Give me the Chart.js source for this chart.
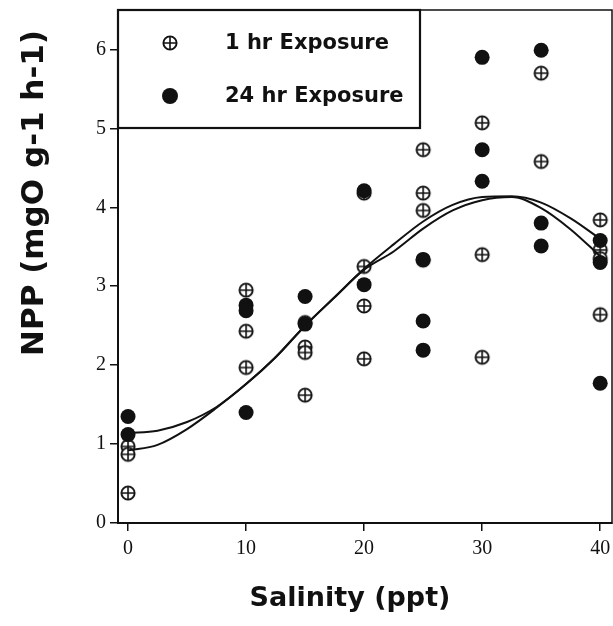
<!DOCTYPE html>
<html>
<head>
<meta charset="utf-8">
<script src="https://cdn.jsdelivr.net/npm/chart.js@4.4.1/dist/chart.umd.min.js"></script>
<style>
  html, body { margin: 0; padding: 0; background: #fff; }
  #wrap { width: 613px; height: 626px; position: relative; }
</style>
</head>
<body>
<div id="wrap"><canvas id="chartNpp" width="613" height="626"></canvas></div>
<script>
/***** DATA *****/
const xTicks = [0, 10, 20, 30, 40];
const yTicks = [0, 1, 2, 3, 4, 5, 6];
const xTitle = "Salinity (ppt)";
const yTitle = "NPP (mgO g-1 h-1)";

// 1 hr exposure (circle with cross)
const hr1Sal = [0, 0, 0, 10, 10, 10, 15, 15, 15, 15, 20, 20, 20, 20, 25, 25, 25, 25, 30, 30, 30, 35, 35, 40, 40, 40, 40];
const hr1Npp = [0.97, 0.87, 0.38, 2.95, 2.43, 1.97, 2.54, 2.23, 2.16, 1.62, 4.18, 3.25, 2.75, 2.08, 4.73, 4.18, 3.96, 3.33, 5.07, 3.40, 2.10, 5.70, 4.58, 3.84, 3.46, 3.35, 2.64];

// 24 hr exposure (filled circle)
const hr24Sal = [0, 0, 10, 10, 10, 15, 15, 20, 20, 25, 25, 25, 30, 30, 30, 35, 35, 35, 40, 40, 40];
const hr24Npp = [1.35, 1.12, 2.76, 2.69, 1.40, 2.87, 2.52, 4.21, 3.02, 3.34, 2.56, 2.19, 5.90, 4.73, 4.33, 5.99, 3.80, 3.51, 3.58, 3.30, 1.77];

// fitted curves
const fitSal = [0, 2.5, 5, 7.5, 10, 12.5, 15, 17.5, 20, 22.5, 25, 27.5, 30, 32.5, 35, 37.5, 40];
const fitA   = [1.14, 1.17, 1.28, 1.47, 1.76, 2.10, 2.50, 2.86, 3.22, 3.53, 3.82, 4.03, 4.13, 4.14, 4.06, 3.86, 3.60];
const fitB   = [0.92, 0.99, 1.19, 1.46, 1.76, 2.10, 2.50, 2.86, 3.21, 3.44, 3.73, 3.96, 4.09, 4.13, 3.99, 3.72, 3.38];

/***** HELPERS *****/
const toXY = (xs, ys) => xs.map((x, i) => ({ x: x, y: ys[i] }));

function crossCircle(r, lw){
  const s = Math.ceil(r*2 + lw + 2);
  const c = document.createElement("canvas");
  c.width = s; c.height = s;
  const g = c.getContext("2d");
  const m = s/2;
  g.fillStyle = "#fff";
  g.strokeStyle = "#111";
  g.lineWidth = lw;
  g.beginPath(); g.arc(m, m, r, 0, Math.PI*2); g.fill(); g.stroke();
  g.lineWidth = lw*0.85;
  g.beginPath();
  g.moveTo(m - r, m); g.lineTo(m + r, m);
  g.moveTo(m, m - r); g.lineTo(m, m + r);
  g.stroke();
  return c;
}
const crossImg = crossCircle(6.6, 1.9);

const titleFont = "'DejaVu Sans', sans-serif";
const tickFont  = "'Liberation Serif', serif";

/***** PLUGINS *****/
const frameAndLegend = {
  id: "frameAndLegend",
  afterDraw(chart){
    const { ctx, chartArea: a } = chart;
    ctx.save();
    ctx.strokeStyle = "#111";
    ctx.lineWidth = 1.5;
    ctx.strokeRect(a.left, a.top, a.right - a.left, a.bottom - a.top);

    // legend box
    const bx = a.left, by = a.top, bw = 302, bh = 118;
    ctx.fillStyle = "#fff";
    ctx.fillRect(bx, by, bw, bh);
    ctx.lineWidth = 2.2;
    ctx.strokeRect(bx, by, bw, bh);

    const items = chart.data.datasets.filter(d => d.legendRow !== undefined);
    ctx.font = "bold 21px " + titleFont;
    ctx.textBaseline = "middle";
    ctx.fillStyle = "#111";
    items.forEach(d => {
      const yy = by + 33 + d.legendRow*53;
      if (d.pointStyle === crossImg){
        ctx.drawImage(crossImg, bx + 52 - crossImg.width/2, yy - crossImg.height/2);
      } else {
        ctx.beginPath(); ctx.arc(bx + 52, yy, 8, 0, Math.PI*2); ctx.fill();
      }
      ctx.fillText(d.label, bx + 107, yy + 1);
    });

    // axis titles (placed like the original, a bit off-centre)
    ctx.textAlign = "center";
    ctx.font = "bold 27px " + titleFont;
    ctx.fillText(xTitle, 350, 599);
    ctx.translate(35, 193);
    ctx.rotate(-Math.PI/2);
    ctx.font = "bold 31px " + titleFont;
    ctx.fillText(yTitle, 0, 0);
    ctx.restore();
  }
};

/***** CHART *****/
const ctx = document.getElementById("chartNpp").getContext("2d");
new Chart(ctx, {
  type: "scatter",
  data: {
    datasets: [
      {
        label: "fitA", type: "line", data: toXY(fitSal, fitA),
        borderColor: "#111", borderWidth: 2, pointRadius: 0,
        cubicInterpolationMode: "monotone", fill: false
      },
      {
        label: "fitB", type: "line", data: toXY(fitSal, fitB),
        borderColor: "#111", borderWidth: 2, pointRadius: 0,
        cubicInterpolationMode: "monotone", fill: false
      },
      {
        label: "24 hr Exposure", legendRow: 1, data: toXY(hr24Sal, hr24Npp),
        pointStyle: "circle", pointRadius: 7.5,
        backgroundColor: "#111", borderColor: "#111", borderWidth: 0
      },
      {
        label: "1 hr Exposure", legendRow: 0, data: toXY(hr1Sal, hr1Npp),
        pointStyle: crossImg, pointRadius: 7
      }
    ]
  },
  options: {
    responsive: false,
    animation: false,
    events: [],
    layout: { autoPadding: false, padding: { top: 10, right: 1, left: 0, bottom: 0 } },
    plugins: { legend: { display: false }, tooltip: { enabled: false } },
    scales: {
      x: {
        type: "linear", min: -0.85, max: 41,
        afterBuildTicks: s => { s.ticks = xTicks.map(v => ({ value: v })); },
        afterFit: s => { s.height = 103; s.paddingLeft = 0; s.paddingRight = 0; },
        ticks: { color: "#111", font: { family: tickFont, size: 20 }, padding: 6 },
        grid: { drawOnChartArea: false, drawTicks: true, tickLength: 8, color: "#111", lineWidth: 1.5 },
        border: { display: true, color: "#111", width: 2 }
      },
      y: {
        type: "linear", min: 0, max: 6.5,
        afterBuildTicks: s => { s.ticks = yTicks.map(v => ({ value: v })); },
        afterFit: s => { s.width = 118; s.paddingTop = 0; s.paddingBottom = 0; },
        ticks: { color: "#111", font: { family: tickFont, size: 20 }, padding: 4 },
        grid: { drawOnChartArea: false, drawTicks: true, tickLength: 8, color: "#111", lineWidth: 1.5 },
        border: { display: true, color: "#111", width: 2 }
      }
    }
  },
  plugins: [frameAndLegend]
});
</script>
</body>
</html>
